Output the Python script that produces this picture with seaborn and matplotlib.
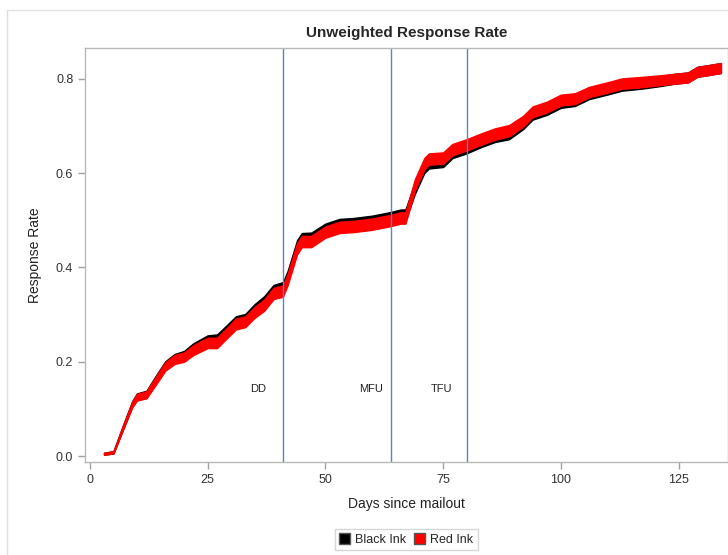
import pandas as pd
import numpy as np
import matplotlib
matplotlib.use("Agg")
import matplotlib.pyplot as plt
import seaborn as sns
from matplotlib.patches import Patch, Rectangle

# Data
days = [3, 5, 7, 9, 10, 12, 14, 16, 18, 20,
        22, 25, 27, 29, 31, 33, 35, 37, 39, 41,
        42, 44, 45, 47, 50, 53, 56, 60, 64, 66,
        67, 69, 71, 72, 75, 77, 80, 83, 86, 89,
        92, 94, 97, 100, 103, 106, 110, 113, 117, 121,
        124, 127, 129, 131, 134]
black_ink = [0.005, 0.008, 0.06, 0.111, 0.126, 0.131, 0.162, 0.192, 0.207, 0.213,
             0.229, 0.245, 0.247, 0.266, 0.285, 0.29, 0.311, 0.327, 0.351, 0.357,
             0.381, 0.446, 0.461, 0.462, 0.481, 0.491, 0.493, 0.498, 0.506, 0.511,
             0.511, 0.568, 0.612, 0.622, 0.625, 0.644, 0.654, 0.667, 0.678, 0.684,
             0.705, 0.725, 0.735, 0.75, 0.754, 0.768, 0.778, 0.786, 0.79, 0.795,
             0.8, 0.803, 0.815, 0.818, 0.823]
red_ink = [0.005, 0.008, 0.06, 0.11, 0.125, 0.13, 0.16, 0.19, 0.205, 0.21,
           0.225, 0.24, 0.24, 0.26, 0.28, 0.285, 0.305, 0.32, 0.345, 0.35,
           0.375, 0.44, 0.455, 0.455, 0.475, 0.485, 0.487, 0.492, 0.50, 0.505,
           0.505, 0.575, 0.62, 0.63, 0.632, 0.65, 0.66, 0.672, 0.683, 0.69,
           0.71, 0.73, 0.74, 0.755, 0.758, 0.772, 0.782, 0.79, 0.793, 0.797,
           0.80, 0.803, 0.815, 0.818, 0.823]
# vertical thickness of the confidence band around each curve
band_width = [0.004, 0.005, 0.009, 0.012, 0.014, 0.015, 0.017, 0.018, 0.019, 0.02,
              0.021, 0.022, 0.022, 0.022, 0.023, 0.023, 0.023, 0.024, 0.024, 0.024,
              0.024, 0.024, 0.024, 0.024, 0.024, 0.024, 0.024, 0.024, 0.024, 0.024,
              0.024, 0.024, 0.024, 0.024, 0.024, 0.024, 0.024, 0.024, 0.024, 0.024,
              0.023, 0.023, 0.023, 0.023, 0.023, 0.022, 0.022, 0.022, 0.022, 0.021,
              0.021, 0.021, 0.021, 0.021, 0.021]

events = [41, 64, 80]
event_labels = ["DD", "MFU", "TFU"]
event_label_x = [35.7, 59.8, 74.6]

# lower and upper band edges as two observations per day -> min/max band
rows = []
for name, vals in [("Black Ink", black_ink), ("Red Ink", red_ink)]:
    for d, v, w in zip(days, vals, band_width):
        rows.append({"day": d, "rate": v - w / 2, "group": name})
        rows.append({"day": d, "rate": v + w / 2, "group": name})
df = pd.DataFrame(rows)

sns.set_style("white")
plt.rcParams["font.family"] = ["Liberation Sans", "DejaVu Sans"]

fig = plt.figure(figsize=(7.28, 5.55), dpi=100)
ax = fig.add_axes([0.117, 0.168, 0.883, 0.746])

# outer graph border
fig.patches.append(Rectangle((0.01, -0.05), 1.2, 1.032, transform=fig.transFigure,
                             fill=False, edgecolor="#e0e0e0", linewidth=1))

sns.lineplot(data=df, x="day", y="rate", hue="group",
             hue_order=["Black Ink", "Red Ink"],
             palette={"Black Ink": "black", "Red Ink": "#ff0000"},
             estimator="mean", errorbar=("pi", 100), err_kws={"alpha": 1, "linewidth": 1.0},
             linewidth=0, legend=False, ax=ax)
for coll in ax.collections:
    coll.set_edgecolor(coll.get_facecolor())

for d in events:
    ax.axvline(d, color="#5b86b8", linewidth=1)
for lx, lab in zip(event_label_x, event_labels):
    ax.text(lx, 0.142, lab, ha="center", va="center", fontsize=8, color="#222222")

ax.set_xlim(-1, 135.5)
ax.set_ylim(-0.012, 0.866)
ax.set_xticks([0, 25, 50, 75, 100, 125])
ax.set_yticks([0.0, 0.2, 0.4, 0.6, 0.8])
ax.set_yticklabels(["0.0", "0.2", "0.4", "0.6", "0.8"])
ax.tick_params(axis="both", direction="out", length=5, width=1, color="#a0a0a0",
               labelsize=9, labelcolor="#333333", bottom=True, left=True)
for s in ax.spines.values():
    s.set_color("#b8b8b8")
    s.set_linewidth(1)

ax.set_title("Unweighted Response Rate", fontsize=11, fontweight="bold", pad=8)
ax.set_xlabel("Days since mailout", fontsize=10, color="#222222", labelpad=8)
ax.set_ylabel("Response Rate", fontsize=10, color="#222222", labelpad=10)

handles = [Patch(facecolor="black", edgecolor="#555555", label="Black Ink"),
           Patch(facecolor="#ff0000", edgecolor="#555555", label="Red Ink")]
fig.legend(handles=handles, loc="center", bbox_to_anchor=(0.558, 0.028), ncol=2,
           fontsize=9, frameon=True, fancybox=False, edgecolor="#cccccc",
           handlelength=0.9, handleheight=0.9, handletextpad=0.4, columnspacing=0.6,
           borderpad=0.35)

fig.savefig("out.png", dpi=100)
